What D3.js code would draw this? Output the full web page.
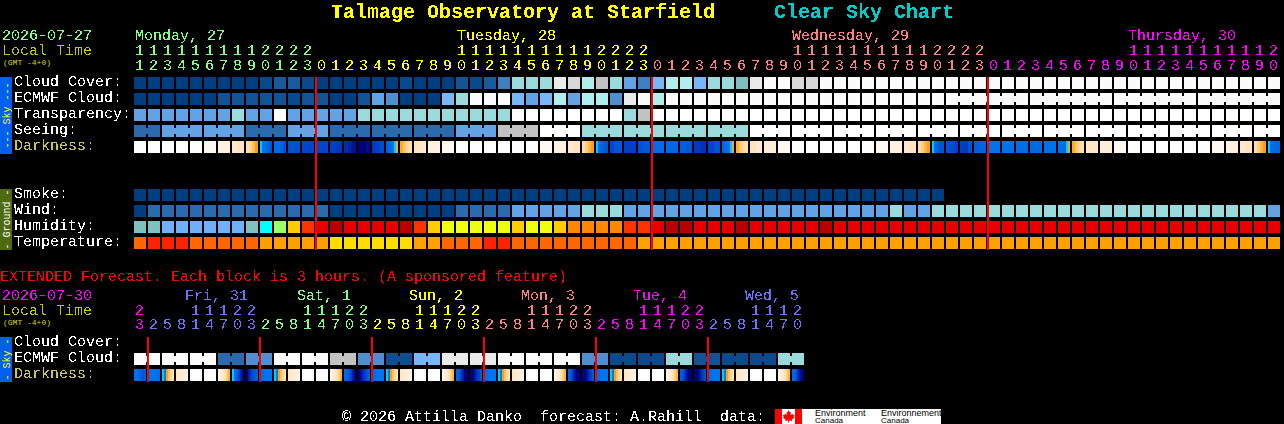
<!DOCTYPE html>
<html><head><meta charset="utf-8">
<style>html,body{margin:0;padding:0;background:#000;overflow:hidden}svg{display:block}text{font-family:"Liberation Mono",monospace;font-size:15px;white-space:pre}</style>
<script src="https://cdn.jsdelivr.net/npm/d3@7"></script>
</head><body>
<script>
// ---------- data ----------
const mainHours=[11,12,13,14,15,16,17,18,19,20,21,22,23,
 0,1,2,3,4,5,6,7,8,9,10,11,12,13,14,15,16,17,18,19,20,21,22,23,
 0,1,2,3,4,5,6,7,8,9,10,11,12,13,14,15,16,17,18,19,20,21,22,23,
 0,1,2,3,4,5,6,7,8,9,10,11,12,13,14,15,16,17,18,19,20];
const mainDayNames=["Monday, 27","Tuesday, 28","Wednesday, 29","Thursday, 30"];
const mainDayFirstCell=[0,13,37,61];
const mainDayLabelCell=[0,23,47,71];
const extHours=[23,
 2,5,8,11,14,17,20,23, 2,5,8,11,14,17,20,23, 2,5,8,11,14,17,20,23,
 2,5,8,11,14,17,20,23, 2,5,8,11,14,17,20,23, 2,5,8,11,14,17,20];
const extDayNames=["Fri, 31","Sat, 1","Sun, 2","Mon, 3","Tue, 4","Wed, 5"];
const extDayFirstCell=[1,9,17,25,33,41];
const extDayLabelCell=[4,12,20,28,36,44];

const cloudCover=[100,100,100,100,100,100,100,100,100,95,85,85,95,100,100,100,100,100,100,95,100,100,100,
 90,95,85,75,40,40,40,10,15,30,20,40,60,75,50,30,30,50,40,40,45,10,1,1,15,15,
 1,1,1,1,1,1,1,1,1,1,1,1,1,1,1,1,1,1,1,1,1,1,1,1,1,1,1,1,1,1,1,1,1];
const ecmwfCloud=[100,100,100,100,100,100,90,90,90,90,90,95,90,90,100,100,90,60,70,100,100,100,
 50,40,1,1,1,50,60,50,30,60,30,30,70,10,1,30,
 1,1,1,1,1,1,1,1,1,1,1,1,1,1,1,1,1,1,1,1,1,1,1,1,1,1,1,1,1,1,1,1,1,1,1,1,1,1,1,1,1,1,1,1];
const transparency=[60,60,60,60,60,60,60,40,60,60,0,60,60,60,60,60,40,40,40,40,40,40,40,40,40,40,40,
 0,0,0,0,0,0,0,0,40,20,0,0,0,0,0,0,0,0,0,0,0,0,0,0,0,0,0,0,0,0,0,0,0,0,0,0,0,0,0,0,0,0,0,0,0,0,0,0,0,0,0,0,0,0,0];
const seeingBlocks=[80,60,60,80,60,80,80,80,60,20,0,40,40,40,40,0,0,0,0,0,0,0,0,0,0,0,0,0];
const seeingBlockLengths=[2,3,3,3,3,3,3,3,3,3,3,3,3,3,3,3,3,3,3,3,3,3,3,3,3,3,3,2];
const darkness=[
 [-5],[-5],[-5],[-5],[-5],[-4.2],[-3.5],[-3,-2.7],[-2.2,-1.8,-1,-0.2],
 [0.3,1.2,1.2,1.6,1.8,2.4],[1.4,1.4,1.8,2.4],[2.5],[2.8],[2.8],[3,3.3],[3.6,4,4.4],[5,5,4.6],[3.2,3,2.6],
 [2,1.6,1.4,1,0.3,-0.3],[-0.5,-1.2,-1.8,-2.2],[-2.7,-3],[-3.5],[-4.2],
 [-5],[-5],[-5],[-5],[-5],[-5],
 [-4.2],[-3.5],[-3,-2.7],[-2,-1.5,-0.8,-0.2],[0.3,1.5,1.6,2,2.2,2.4],[2.8,2.4,2.2],[3,3],[2.4,2.2],[1.4],[1.6],[2,2.2],[3.2,3.4],[2.8,2.4],
 [1.8,1.4,1.2,1,0.3,-0.3],[-0.6,-1.3,-1.8,-2.2],[-2.7,-3],[-3.3],[-4.2],
 [-5],[-5],[-5],[-5],[-5],[-5],
 [-4.2],[-3.5],[-3,-2.7],[-2,-1.5,-0.8,-0.2],[0.3,1.5,1.8,2.2,2.4,2.4],[2.4,2.6,2.6,3],[3,3.2,2.4],[2,1.8],[1.1],[1.1],[1.3],[1.5],[1.1],
 [1.2,1.2,1.2,1.4,0.3,-0.3],[-0.5,-1.3,-1.8,-2.2],[-2.8],[-3.3],[-4.2],
 [-5],[-5],[-5],[-5],[-5],[-5],
 [-4.2],[-3.5],[-3,-2.7],[-2,-1.5,-0.8,-0.2],[0.3,1.5,1.5,1.6,1.6,1.6]];
const smokeLevel=Array.from({length:58},()=>0);
const windMph=[3,9,9,9,9,9,9,9,9,9,9,9,9,9,3,3,3,3,3,3,3,3,3,9,9,9,9,14,14,14,14,14,20,20,20,
 14,14,14,14,14,14,14,14,14,14,14,14,14,14,14,14,14,14,14,20,14,14,20,20,20,20,20,20,20,20,20,20,20,20,20,20,20,20,20,20,20,20,20,20,20,20,14];
const humidity=[35,35,30,30,30,30,30,30,35,40,45,55,65,70,75,70,70,70,70,75,65,55,50,50,50,50,50,55,50,50,55,60,60,60,60,65,65,
 70,75,75,70,70,70,75,70,70,70,70,70,75,70,70,70,70,70,70,70,70,70,70,70,70,70,70,70,70,70,70,70,70,70,70,70,70,70,70,70,70,70,70,70,70];
const temperature=[23,25,25,25,23,23,23,23,23,21,21,21,21,21,19,19,19,19,19,19,21,21,23,23,23,25,25,
 23,23,23,23,23,23,23,23,23,21,
 21,21,21,21,21,21,21,21,21,21,21,21,21,21,21,21,21,21,21,21,21,21,21,21,21,21,21,21,21,21,21,21,21,21,21,21,21,21,21,21,21,21,21,21,21];
const extEcmwfPairs=[1,1,1,80,70,1,1,20,70,92,50,10,10,1,1,1,70,95,95,40,90,95,95,40];
const extDarkness=[
 [1.4,1.2,1.6,2,2.4,2],[1.2,1,1,1,1.2,1.4],[0.3,1,-0.2,-1,-1.8,-2.4],[-2.8,-3.2,-3.6],[-5],[-5],
 [-4,-3.4,-3,-2.4,-1.6,-0.6],[0.3,1.5,2,3,4,5],[5,4,3,2.6,2.2,2],[1.6,1.3,1.1,1,1,1],
 [0.3,1,-0.2,-1,-1.8,-2.4],[-2.8,-3.2,-3.6],[-5],[-5],[-4,-3.4,-3,-2.4,-1.6,-0.6],[1.5,2,2.2,3,4,5],[5,4.5,3.6,3,2.4,2],[1.6,1.3,1.1,1,1,1],
 [0.3,1,-0.2,-1,-1.8,-2.4],[-2.8,-3.2,-3.6],[-5],[-5],[-4,-3.4,-3,-2.4,-1.6,-0.6],[1.8,2.2,3,4,5,5],[5,5,4.2,3.4,2.8,2.2],[1.6,1.3,1.1,1,1,1],
 [0.3,1,-0.2,-1,-1.8,-2.4],[-2.8,-3.2,-3.6],[-5],[-5],[-4,-3.4,-3,-2.4,-1.6,-0.6],[1.8,2.4,3.4,4.4,5,5],[5,5,4.4,3.6,2.8,2.2],[1.6,1.3,1.1,1,1,1],
 [0.3,1,-0.2,-1,-1.8,-2.4],[-2.8,-3.2,-3.6],[-5],[-5],[-4,-3.4,-3,-2.4,-1.6,-0.6],[2,2.4,3.4,4.4,5,5],[5,5,4.6,3.8,3,2.4],[1.6,1.3,1.1,1,1,1],
 [0.3,1,-0.2,-1,-1.8,-2.4],[-2.8,-3.2,-3.6],[-5],[-5],[-4,-3.4,-3,-2.4,-1.6,-0.6],[1.5,1.8,3,4,4.6,5]];
const mainMidnightCells=[13,37,61];
const extMidnightCells=[1,9,17,25,33,41];
const skyLabels=["Cloud Cover:","ECMWF Cloud:","Transparency:","Seeing:","Darkness:"];
const groundLabels=["Smoke:","Wind:","Humidity:","Temperature:"];
const extLabels=["Cloud Cover:","ECMWF Cloud:","Darkness:"];

// ---------- scales ----------
const W=1284,H=424;
const svg=d3.select("body").append("svg").attr("width",W).attr("height",H).style("background","#000");
const x=d3.scaleLinear().domain([0,1]).range([134,148]);
const cellW=12,cellH=12;
const rowY=d3.scaleLinear().domain([0,1]).range([77,93]);
const groundY=d3.scaleLinear().domain([0,1]).range([189,205]);
const extY=d3.scaleLinear().domain([0,1]).range([337,353]);
const skyColor=d3.scaleOrdinal()
 .domain([0,1,10,15,20,30,40,45,50,60,70,75,80,85,90,92,95,100])
 .range(["#ffffff","#fbfbfb","#eaeaea","#d8d8d8","#c2c2c2","#aeeeee","#9adada","#7fbfbf","#77b7f7","#63a3e3","#4f8fcf","#3d7fc0","#2b6bab","#1b5a9a","#135393","#0f4f8f","#0b4a8a","#003f7f"]);
const darkColor=d3.scaleLinear()
 .domain([-5,-4.2,-3.5,-3,-2,-1,-0.2,0.3,1,2,3,4,5])
 .range(["#ffffff","#fff8f2","#fff0e0","#ffe8cc","#ffdcaa","#ffc060","#ffa000","#00ccff","#0074ee","#0060dc","#0040c8","#0020a0","#000078"]);
const windColor=d3.scaleThreshold().domain([6,12,17]).range(["#003f7f","#2b6bab","#63a3e3","#9adada"]);
const humColor=d3.scaleOrdinal().domain([30,35,40,45,50,55,60,65,70,75])
 .range(["#70b0f8","#80c0c0","#00ffff","#99ff66","#eeff11","#ffcc00","#ff8800","#ff3300","#e60000","#b80000"]);
const tempColor=d3.scaleOrdinal().domain([19,21,23,25]).range(["#ffdd00","#ffa000","#ff6600","#ff2200"]);
const smokeColor=d3.scaleOrdinal().domain([0]).range(["#003f7f"]);
const dayColors=["#80ff80","#ffff00","#ff8080","#ff00ff"];
const extDayColors=["#7070ff","#80ff80","#ffff00","#ff8080","#ff00ff","#7070ff"];

// ---------- helpers ----------
const marks=svg.append("g").attr("shape-rendering","crispEdges");
const defs=svg.append("defs");
defs.append("filter").attr("id","px").attr("x","0").attr("y","0").attr("width",W).attr("height",H)
 .attr("filterUnits","userSpaceOnUse").attr("color-interpolation-filters","sRGB")
 .append("feComponentTransfer").append("feFuncA").attr("type","discrete").attr("tableValues","0 1");
const texts=svg.append("g").attr("filter","url(#px)");
const softTexts=svg.append("g");
const label=(s,px,py,c,o={})=>(o.soft?softTexts:texts).append("text").attr("x",px).attr("y",py).attr("fill",c)
 .style("font-size",(o.size||15)+"px").style("font-weight",o.weight||"normal").text(s);

function row(values,y,color){
 marks.append("g").selectAll("rect").data(values).join("rect")
  .attr("x",(d,i)=>x(i)).attr("y",y).attr("width",cellW).attr("height",cellH).attr("fill",d=>color(d));
}
function links(values,y,color,joined){
 marks.append("g").selectAll("rect").data(values.map((v,i)=>({v,i})).filter(d=>joined(d.i))).join("rect")
  .attr("x",d=>x(d.i)+cellW).attr("y",y+3).attr("width",x(1)-x(0)-cellW).attr("height",cellH-6).attr("fill",d=>color(d.v));
}
function darkRow(cells,y){
 cells.forEach((samples,i)=>{
  const band=d3.scaleBand().domain(d3.range(samples.length)).range([x(i),x(i)+cellW]);
  marks.append("g").selectAll("rect").data(samples).join("rect")
   .attr("x",(d,k)=>band(k)).attr("y",y).attr("width",band.bandwidth()).attr("height",cellH).attr("fill",d=>darkColor(d));
 });
}
function header(hours,cellColor,yDigit,yTens){
 hours.forEach((h,i)=>{
  const c=cellColor(i);
  label(String(h%10),x(i)+1,yDigit,c);
  if(h>=10) label(String(Math.floor(h/10)),x(i)+1,yTens,c);
 });
}

// ---------- title ----------
label("Talmage Observatory at Starfield",331,18,"#ffff00",{size:20,weight:"bold"});
label("Clear Sky Chart",774,18,"#00cccc",{size:20,weight:"bold"});

// ---------- main chart ----------
label("2026-07-27",2,40,"#80ff80");
label("Local Time",2,55,"#c8c800");
label("(GMT -4+0)",3,64.5,"#d8d800",{size:8,soft:true});
const dayOf=i=>d3.bisectRight(mainDayFirstCell,i)-1;
mainDayNames.forEach((n,k)=>label(n,x(mainDayLabelCell[k])+(k<2?1:0),40,dayColors[k]));
header(mainHours,i=>dayColors[dayOf(i)],70,55);

row(cloudCover,rowY(0),skyColor);
row(ecmwfCloud,rowY(1),skyColor);
links(ecmwfCloud,rowY(1),skyColor,i=>i>=58&&i<81&&(i-58)%6!==5);
row(transparency,rowY(2),skyColor);
const seeingCells=seeingBlocks.flatMap((v,k)=>d3.range(seeingBlockLengths[k]).map(()=>v));
row(seeingCells,rowY(3),skyColor);
const blockEnds=d3.cumsum(seeingBlockLengths);
links(seeingCells,rowY(3),skyColor,i=>i<81&&!blockEnds.includes(i+1));
darkRow(darkness,rowY(4));

row(smokeLevel,groundY(0),smokeColor);
row(windMph,groundY(1),windColor);
row(humidity,groundY(2),humColor);
row(temperature,groundY(3),tempColor);

skyLabels.forEach((s,k)=>label(s,14,rowY(k)+9,k===4?"#c8c850":"#ffffff"));
groundLabels.forEach((s,k)=>label(s,14,groundY(k)+9,"#ffffff"));

// side bars
function sideBar(y0,y1,fill,txt,c){
 marks.append("rect").attr("x",0).attr("y",y0).attr("width",12).attr("height",y1-y0).attr("fill",fill);
 softTexts.append("text").attr("transform",`translate(9.5,${(y0+y1)/2}) rotate(-90)`).attr("text-anchor","middle")
  .attr("fill",c).style("font-size","10px").text(txt);
}
sideBar(77,154,"#0060ee","--- Sky ---","#ffff00");
sideBar(189,250,"#4f6a10","- Ground -","#ffffff");
sideBar(337,382,"#0060ee","- Sky -","#ffff00");

// midnight lines
marks.append("g").selectAll("rect").data(mainMidnightCells).join("rect")
 .attr("x",d=>x(d)-1).attr("y",77).attr("width",2).attr("height",173).attr("fill","#ff0000");

// ---------- extended ----------
label("EXTENDED Forecast. Each block is 3 hours. (A sponsored feature)",0,281,"#ff0000");
label("2026-07-30",2,300,"#ff00ff");
label("Local Time",2,315,"#c8c800");
label("(GMT -4+0)",3,324.5,"#d8d800",{size:8,soft:true});
extDayNames.forEach((n,k)=>label(n,x(extDayLabelCell[k])-5,300,extDayColors[k]));
const extDayOf=i=>d3.bisectRight(extDayFirstCell,i)-1;
header(extHours,i=>{const k=extDayOf(i);return k<0?"#ff00ff":extDayColors[k];},329,315);

const extCells=extEcmwfPairs.flatMap(v=>[v,v]);
row(extCells,extY(1),skyColor);
links(extCells,extY(1),skyColor,i=>i%2===0);
darkRow(extDarkness,extY(2));
extLabels.forEach((s,k)=>label(s,14,extY(k)+9,k===2?"#c8c850":"#ffffff"));
marks.append("g").selectAll("rect").data(extMidnightCells).join("rect")
 .attr("x",d=>x(d)-1).attr("y",337).attr("width",2).attr("height",45).attr("fill","#ff0000");

// ---------- footer ----------
label("\u00a9 2026 Attilla Danko  forecast: A.Rahill  data:",342,420.5,"#ffffff");
const logo=svg.append("g");
logo.append("rect").attr("x",775).attr("y",409).attr("width",166).attr("height",15).attr("fill","#fff");
logo.append("rect").attr("x",775).attr("y",409).attr("width",7).attr("height",15).attr("fill","#f00");
logo.append("rect").attr("x",795).attr("y",409).attr("width",7).attr("height",15).attr("fill","#f00");
logo.append("path").attr("d","M788.5 410l1.5 2.5 1-.5-.5 3 2-1.5.5 1.5 1.5-.3-.8 2.3 1 .5-3 2.2.3 1.2-2.8-.4v2h-1v-2l-2.8.4.3-1.2-3-2.2 1-.5-.8-2.3 1.5.3.5-1.5 2 1.5-.5-3 1 .5z").attr("fill","#f00");
[[815,"Environment"],[881,"Environnement"]].forEach(([px,s])=>{
 logo.append("text").attr("x",px).attr("y",415.5).attr("fill","#000").style("font-family","Liberation Sans").style("font-size","9px").text(s);
 logo.append("text").attr("x",px).attr("y",423).attr("fill","#000").style("font-family","Liberation Sans").style("font-size","8px").text("Canada");
});
</script>
</body></html>
